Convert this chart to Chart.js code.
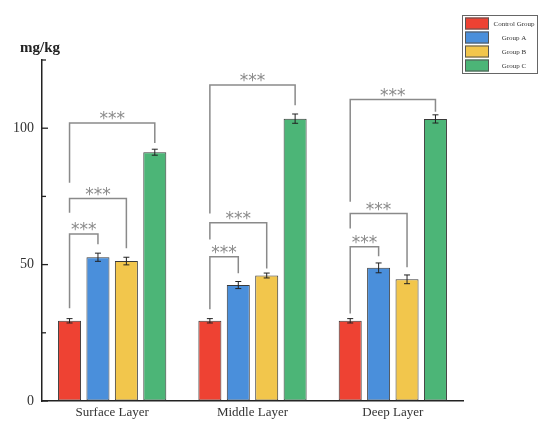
<!DOCTYPE html>
<html>
<head>
<meta charset="utf-8">
<script src="https://cdn.jsdelivr.net/npm/chart.js@4/dist/chart.umd.min.js"></script>
<style>
html,body{margin:0;padding:0;background:#fff;}
#wrap{width:550px;height:431px;position:relative;}
</style>
</head>
<body>
<div id="wrap"><canvas id="c" width="550" height="431"></canvas></div>
<script>
// ---- data ----
const categories = ["Surface Layer", "Middle Layer", "Deep Layer"];
const seriesNames = ["Control Group", "Group A", "Group B", "Group C"];
const controlGroup = [29.4, 29.4, 29.4];
const groupA = [52.7, 42.5, 48.8];
const groupB = [51.3, 46.0, 44.6];
const groupC = [91.2, 103.5, 103.4];
const errControl = [0.8, 0.8, 0.8];
const errA = [1.5, 1.3, 1.8];
const errB = [1.4, 0.9, 1.6];
const errC = [1.1, 1.7, 1.5];
const yTickLabels = [0, 50, 100];
const yTitle = "mg/kg";
// significance brackets (data units): height of the horizontal line, left leg end, right leg end
const sigLabel = "***";
const sigLineA = [61.2, 52.9, 56.5];
const sigLeftA = [34.0, 33.6, 32.1];
const sigRightA = [57.5, 46.8, 53.1];
const sigLineB = [74.2, 65.3, 68.7];
const sigLeftB = [69.0, 59.2, 63.2];
const sigRightB = [56.0, 48.6, 49.0];
const sigLineC = [101.9, 115.8, 110.5];
const sigLeftC = [80.0, 68.7, 73.0];
const sigRightC = [94.6, 108.4, 106.0];

const colors = ["#EE4233", "#4A8FDB", "#F2C64C", "#4CB577"];
const seriesValues = [controlGroup, groupA, groupB, groupC];
const seriesErrors = [errControl, errA, errB, errC];
const sigSets = [
  {target: 1, line: sigLineA, left: sigLeftA, right: sigRightA},
  {target: 2, line: sigLineB, left: sigLeftB, right: sigRightB},
  {target: 3, line: sigLineC, left: sigLeftC, right: sigRightC}
];

const SERIF = "'Liberation Serif', 'Times New Roman', serif";

const errorBarPlugin = {
  id: 'errorBars',
  afterDatasetsDraw(chart) {
    const ctx = chart.ctx, y = chart.scales.y;
    ctx.save();
    ctx.strokeStyle = '#222';
    ctx.lineWidth = 1;
    chart.data.datasets.forEach((ds, di) => {
      const meta = chart.getDatasetMeta(di);
      meta.data.forEach((bar, i) => {
        const v = ds.data[i], e = seriesErrors[di][i];
        const x = bar.x, yt = y.getPixelForValue(v + e), yb = y.getPixelForValue(v - e);
        ctx.beginPath();
        ctx.moveTo(x, yt); ctx.lineTo(x, yb);
        ctx.moveTo(x - 3, yt); ctx.lineTo(x + 3, yt);
        ctx.moveTo(x - 3, yb); ctx.lineTo(x + 3, yb);
        ctx.stroke();
      });
    });
    ctx.restore();
  }
};

const sigPlugin = {
  id: 'sig',
  afterDatasetsDraw(chart) {
    const ctx = chart.ctx, y = chart.scales.y;
    const base = chart.getDatasetMeta(0);
    ctx.save();
    ctx.strokeStyle = '#8a8a8a';
    ctx.fillStyle = '#8a8a8a';
    ctx.lineWidth = 1.5;
    ctx.font = "17px 'DejaVu Sans', sans-serif";
    ctx.textAlign = 'center';
    ctx.textBaseline = 'alphabetic';
    sigSets.forEach(s => {
      const meta = chart.getDatasetMeta(s.target);
      categories.forEach((c, i) => {
        const x1 = base.data[i].x, x2 = meta.data[i].x;
        const yl = y.getPixelForValue(s.line[i]);
        const y1 = y.getPixelForValue(s.left[i]);
        const y2 = y.getPixelForValue(s.right[i]);
        ctx.beginPath();
        ctx.moveTo(x1, y1); ctx.lineTo(x1, yl); ctx.lineTo(x2, yl); ctx.lineTo(x2, y2);
        ctx.stroke();
        ctx.fillText(sigLabel, (x1 + x2) / 2, yl + 1);
      });
    });
    ctx.restore();
  }
};

const axisDecorPlugin = {
  id: 'axisDecor',
  afterDraw(chart) {
    const ctx = chart.ctx, y = chart.scales.y, a = chart.chartArea;
    ctx.save();
    ctx.strokeStyle = '#222';
    ctx.lineWidth = 1.3;
    for (let v = y.min; v <= y.max; v += 25) {
      const py = y.getPixelForValue(v);
      const len = (v % 50 === 0) ? 6 : 4;
      ctx.beginPath();
      ctx.moveTo(a.left, py); ctx.lineTo(a.left + len, py);
      ctx.stroke();
    }
    // y title
    ctx.fillStyle = '#222';
    ctx.font = "bold 15px " + SERIF;
    ctx.textAlign = 'center';
    ctx.textBaseline = 'middle';
    ctx.fillText(yTitle, a.left - 2, a.top - 12);
    // legend
    const lx = 462, ly = 15, lw = 75, lh = 58;
    ctx.fillStyle = '#fff';
    ctx.fillRect(lx, ly, lw, lh);
    ctx.strokeStyle = '#666';
    ctx.lineWidth = 1;
    ctx.strokeRect(lx + 0.5, ly + 0.5, lw, lh);
    chart.data.datasets.forEach((ds, i) => {
      const ry = ly + 2.5 + i * 14;
      ctx.fillStyle = ds.backgroundColor;
      ctx.fillRect(lx + 3, ry, 24, 12);
      ctx.strokeStyle = '#555';
      ctx.strokeRect(lx + 3.5, ry + 0.5, 23, 11);
      ctx.fillStyle = '#333';
      ctx.font = "7px " + SERIF;
      ctx.textAlign = 'center';
      ctx.textBaseline = 'middle';
      ctx.fillText(ds.label, lx + 52, ry + 6.5);
    });
    ctx.restore();
  }
};

new Chart(document.getElementById('c'), {
  type: 'bar',
  data: {
    labels: categories,
    datasets: seriesNames.map((n, i) => ({
      label: n,
      data: seriesValues[i],
      backgroundColor: colors[i],
      borderColor: '#3a3a3a',
      borderWidth: 1,
      borderSkipped: false,
      categoryPercentage: 0.81,
      barPercentage: 0.81
    }))
  },
  options: {
    responsive: false,
    animation: false,
    devicePixelRatio: 1,
    layout: {padding: {left: 0, right: 87, top: 60, bottom: 0}},
    plugins: {legend: {display: false}, tooltip: {enabled: false}},
    scales: {
      x: {
        grid: {display: true, drawOnChartArea: false, drawTicks: false},
        border: {display: true, color: '#222', width: 1.5},
        ticks: {font: {family: SERIF, size: 13}, color: '#333', padding: 4},
        afterFit: s => { s.height = 30; }
      },
      y: {
        min: 0, max: 125,
        grid: {display: true, drawOnChartArea: false, drawTicks: false},
        border: {display: true, color: '#222', width: 1.5},
        ticks: {
          stepSize: 25,
          font: {family: SERIF, size: 14}, color: '#333', padding: 8,
          callback: v => yTickLabels.includes(v) ? String(v) : ''
        },
        afterFit: s => { s.width = 42; }
      }
    }
  },
  plugins: [errorBarPlugin, sigPlugin, axisDecorPlugin]
});
</script>
</body>
</html>
